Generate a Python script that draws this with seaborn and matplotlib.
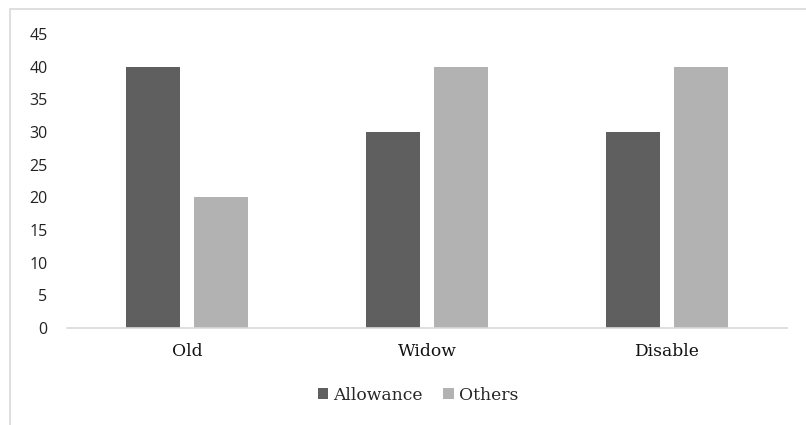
import matplotlib
matplotlib.use("Agg")
import matplotlib.pyplot as plt
import seaborn as sns
import pandas as pd
from matplotlib.patches import Rectangle

categories = ["Old", "Widow", "Disable"]
series_names = ["Allowance", "Others"]
allowance = [40, 30, 30]
others = [20, 40, 40]
y_ticks = [0, 5, 10, 15, 20, 25, 30, 35, 40, 45]

df = pd.DataFrame({
    "category": categories * 2,
    "series": [series_names[0]] * 3 + [series_names[1]] * 3,
    "value": allowance + others,
})

sns.set_theme(style="white")
palette = {"Allowance": "#5f5f5f", "Others": "#b2b2b2"}

fig = plt.figure(figsize=(8.06, 4.25), dpi=100)
ax = fig.add_axes([67 / 806, 1 - 328 / 425, 720 / 806, (328 - 34) / 425])

sns.barplot(data=df, x="category", y="value", hue="series", order=categories,
            hue_order=series_names, palette=palette, width=0.567, gap=0.22,
            saturation=1, edgecolor="none", ax=ax, legend=False)

ax.set_xlim(-0.5, 2.5)
ax.set_ylim(0, 45)
ax.set_yticks(y_ticks)
ax.set_yticklabels([str(t) for t in y_ticks], fontfamily="Open Sans", fontsize=11.5, color="#222222")
ax.set_xticks(range(len(categories)))
ax.set_xticklabels(categories, fontfamily="DejaVu Serif", fontsize=12.3, color="#111111")
ax.tick_params(axis="y", length=0, pad=14)
ax.tick_params(axis="x", length=0, pad=11)
ax.set_xlabel("")
ax.set_ylabel("")
for side in ["top", "right", "left"]:
    ax.spines[side].set_visible(False)
ax.spines["bottom"].set_color("#d9d9d9")
ax.spines["bottom"].set_linewidth(1.2)
ax.patch.set_alpha(0)

# legend below the plot
handles = [Rectangle((0, 0), 1, 1, facecolor=palette[s], edgecolor="none") for s in series_names]
fig.legend(handles, series_names, loc="center", bbox_to_anchor=(418 / 806, 1 - 395 / 425),
           ncol=2, frameon=False, handlelength=0.6, handleheight=0.6, handletextpad=0.3,
           columnspacing=1.2, prop={"family": "DejaVu Serif", "size": 12.3})

# outer chart border
fig.patches.append(Rectangle((10 / 806, -0.1), 1.2, 1.1 - 9 / 425,
                             transform=fig.transFigure, facecolor="none",
                             edgecolor="#d9d9d9", linewidth=1.2, zorder=0))

fig.savefig("out.png", dpi=100)
